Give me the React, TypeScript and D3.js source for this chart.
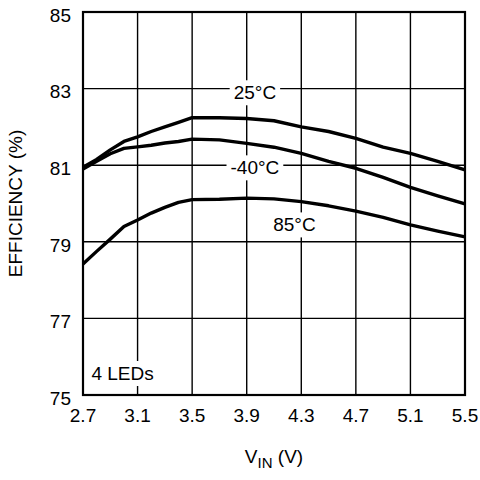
import { useEffect, useRef } from 'react';
import * as d3 from 'd3';

// VIN sample points (V)
const vin = [2.7, 2.8, 2.9, 3.0, 3.1, 3.2, 3.3, 3.4, 3.5, 3.7, 3.9, 4.1, 4.3, 4.5, 4.7, 4.9, 5.1, 5.3, 5.5];

// efficiency (%) per temperature
const eff25 = [80.95, 81.15, 81.4, 81.62, 81.74, 81.88, 82.0, 82.12, 82.24, 82.24, 82.22, 82.16, 82.0, 81.88, 81.7, 81.47, 81.31, 81.1, 80.88];
const effM40 = [80.9, 81.1, 81.3, 81.44, 81.48, 81.52, 81.58, 81.62, 81.68, 81.66, 81.57, 81.47, 81.31, 81.1, 80.92, 80.68, 80.42, 80.2, 79.99];
const eff85 = [78.42, 78.75, 79.07, 79.4, 79.57, 79.75, 79.9, 80.03, 80.1, 80.11, 80.14, 80.12, 80.05, 79.94, 79.8, 79.64, 79.44, 79.28, 79.13];

const xTicks = [2.7, 3.1, 3.5, 3.9, 4.3, 4.7, 5.1, 5.5];
const yTicks = [75, 77, 79, 81, 83, 85];

const curveLabels = [
  { text: '25°C', v: 3.96, e: 82.9 },
  { text: '-40°C', v: 3.96, e: 80.94 },
  { text: '85°C', v: 4.25, e: 79.45 },
  { text: '4 LEDs', v: 2.99, e: 75.57 },
];

const FONT = '"Liberation Sans", Arial, sans-serif';

export default function App() {
  const svgRef = useRef<SVGSVGElement>(null);

  useEffect(() => {
    if (!svgRef.current) return;
    const svg = d3.select(svgRef.current);
    svg.selectAll('*').remove();

    const margin = { top: 12, right: 15, bottom: 85, left: 83 };
    const width = 480;
    const height = 480;
    const innerW = width - margin.left - margin.right;
    const innerH = height - margin.top - margin.bottom;

    const x = d3.scaleLinear().domain([2.7, 5.5]).range([0, innerW]);
    const y = d3.scaleLinear().domain([75, 85]).range([innerH, 0]);

    const g = svg.append('g').attr('transform', `translate(${margin.left},${margin.top})`);

    // grid
    g.selectAll('line.vgrid')
      .data(xTicks)
      .enter()
      .append('line')
      .attr('x1', (d) => x(d))
      .attr('x2', (d) => x(d))
      .attr('y1', 0)
      .attr('y2', innerH)
      .attr('stroke', '#000')
      .attr('stroke-width', 1.4);

    g.selectAll('line.hgrid')
      .data(yTicks)
      .enter()
      .append('line')
      .attr('x1', 0)
      .attr('x2', innerW)
      .attr('y1', (d) => y(d))
      .attr('y2', (d) => y(d))
      .attr('stroke', '#000')
      .attr('stroke-width', 1.4);

    // curves
    const line = d3
      .line<number>()
      .x((_, i) => x(vin[i]))
      .y((d) => y(d));

    [eff25, effM40, eff85].forEach((s) => {
      g.append('path')
        .attr('d', line(s))
        .attr('fill', 'none')
        .attr('stroke', '#000')
        .attr('stroke-width', 3.4)
        .attr('stroke-linejoin', 'round');
    });

    // labels with white background
    curveLabels.forEach((l) => {
      const lg = g.append('g');
      const t = lg
        .append('text')
        .attr('x', x(l.v))
        .attr('y', y(l.e))
        .attr('dy', '0.36em')
        .attr('text-anchor', 'middle')
        .attr('font-family', FONT)
        .attr('font-size', 19)
        .text(l.text);
      const bb = (t.node() as SVGTextElement).getBBox();
      lg.insert('rect', 'text')
        .attr('x', bb.x - 4)
        .attr('y', bb.y - 2)
        .attr('width', bb.width + 8)
        .attr('height', bb.height + 4)
        .attr('fill', '#fff');
    });

    // frame
    g.append('rect')
      .attr('width', innerW)
      .attr('height', innerH)
      .attr('fill', 'none')
      .attr('stroke', '#000')
      .attr('stroke-width', 2.2);

    // tick labels
    g.selectAll('text.xt')
      .data(xTicks)
      .enter()
      .append('text')
      .attr('x', (d) => x(d))
      .attr('y', innerH + 27)
      .attr('text-anchor', 'middle')
      .attr('font-family', FONT)
      .attr('font-size', 19)
      .text((d) => d.toFixed(1));

    g.selectAll('text.yt')
      .data(yTicks)
      .enter()
      .append('text')
      .attr('x', -12)
      .attr('y', (d) => y(d) + 3)
      .attr('dy', '0.36em')
      .attr('text-anchor', 'end')
      .attr('font-family', FONT)
      .attr('font-size', 19)
      .text((d) => String(d));

    // axis titles
    const xt = svg
      .append('text')
      .attr('x', 274)
      .attr('y', 463)
      .attr('text-anchor', 'middle')
      .attr('font-family', FONT)
      .attr('font-size', 19);
    xt.append('tspan').text('V');
    xt.append('tspan').attr('font-size', 15).attr('dy', 5).text('IN');
    xt.append('tspan').attr('dy', -5).text(' (V)');

    svg
      .append('text')
      .attr('transform', `translate(22,${margin.top + innerH / 2}) rotate(-90)`)
      .attr('text-anchor', 'middle')
      .attr('font-family', FONT)
      .attr('font-size', 19)
      .text('EFFICIENCY (%)');
  }, []);

  return (
    <svg
      ref={svgRef}
      width={480}
      height={480}
      style={{ position: 'absolute', left: 0, top: 0, background: '#fff' }}
    />
  );
}
